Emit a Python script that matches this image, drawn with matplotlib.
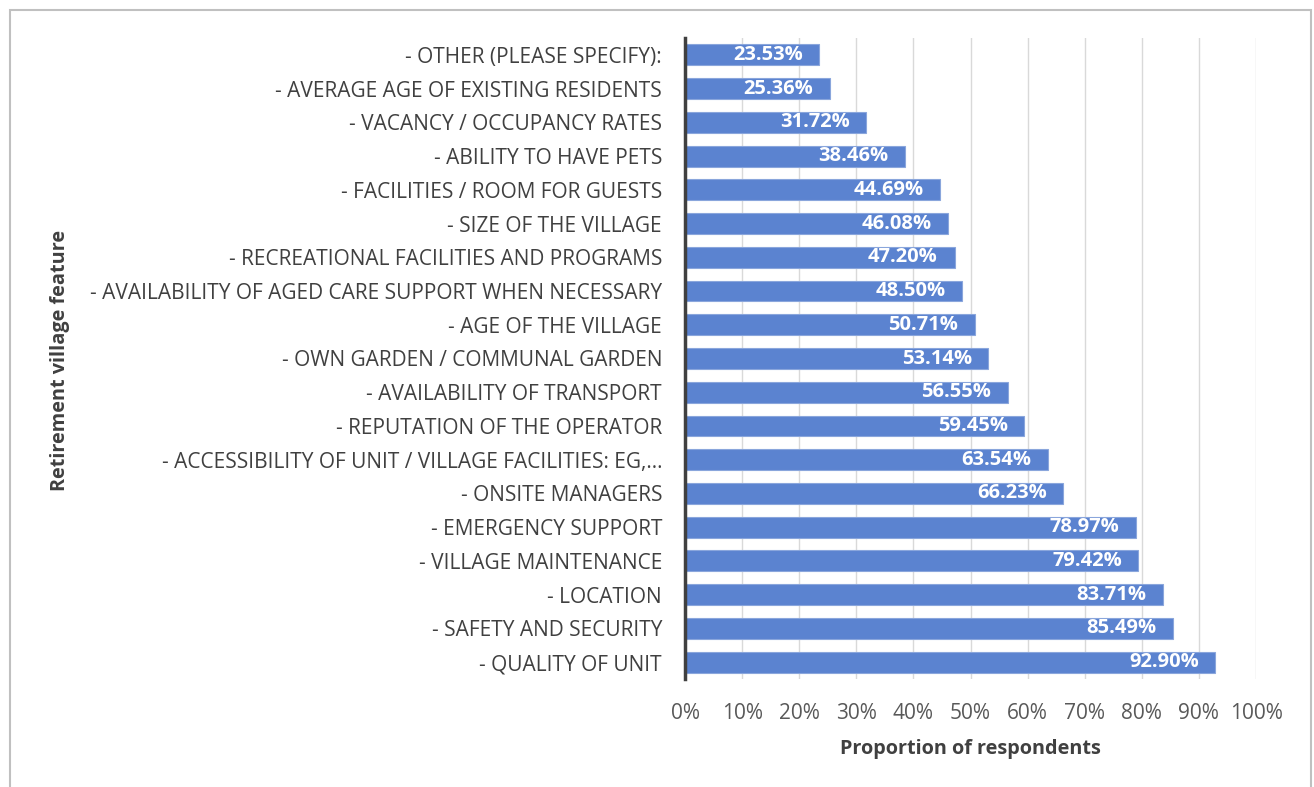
import matplotlib.pyplot as plt
from matplotlib.patches import Rectangle
from matplotlib.ticker import FuncFormatter

features = [
    "- QUALITY OF UNIT",
    "- SAFETY AND SECURITY",
    "- LOCATION",
    "- VILLAGE MAINTENANCE",
    "- EMERGENCY SUPPORT",
    "- ONSITE MANAGERS",
    "- ACCESSIBILITY OF UNIT / VILLAGE FACILITIES: EG,\u2026",
    "- REPUTATION OF THE OPERATOR",
    "- AVAILABILITY OF TRANSPORT",
    "- OWN GARDEN / COMMUNAL GARDEN",
    "- AGE OF THE VILLAGE",
    "- AVAILABILITY OF AGED CARE SUPPORT WHEN NECESSARY",
    "- RECREATIONAL FACILITIES AND PROGRAMS",
    "- SIZE OF THE VILLAGE",
    "- FACILITIES / ROOM FOR GUESTS",
    "- ABILITY TO HAVE PETS",
    "- VACANCY / OCCUPANCY RATES",
    "- AVERAGE AGE OF EXISTING RESIDENTS",
    "- OTHER (PLEASE SPECIFY):",
]
proportions = [92.90, 85.49, 83.71, 79.42, 78.97, 66.23, 63.54, 59.45, 56.55,
               53.14, 50.71, 48.50, 47.20, 46.08, 44.69, 38.46, 31.72, 25.36, 23.53]

plt.rcParams['font.family'] = ['Open Sans', 'DejaVu Sans']

fig = plt.figure(figsize=(13.14, 7.87), dpi=100)
# outer chart border (no bottom edge visible)
fig.patches.append(Rectangle((10 / 1314, -0.01), (1311 - 10) / 1314, 1 - 10 / 787 + 0.01,
                             transform=fig.transFigure, fill=False,
                             edgecolor='#c0c0c0', linewidth=1.5))

ax = fig.add_axes([685 / 1314, 1 - 679 / 787, (1256 - 685) / 1314, (679 - 38) / 787])

y = list(range(len(features)))
ax.barh(y, proportions, height=0.62, color='#5b83d0', edgecolor='#8aa6dc',
        linewidth=0.8, zorder=3)

for yi, v in zip(y, proportions):
    ax.annotate(f'{v:.2f}%', xy=(v, yi), xytext=(-12, 0), textcoords='offset points',
                ha='right', va='center', color='white', fontsize=14.5,
                fontweight='bold', zorder=4)

ax.set_xlim(0, 100)
ax.set_ylim(-0.5, len(features) - 0.5)
ax.set_xticks(range(0, 101, 10))
ax.xaxis.set_major_formatter(FuncFormatter(lambda x, p: f'{x:.0f}%'))
ax.set_yticks(y)
ax.set_yticklabels(features)

ax.grid(axis='x', color='#d9d9d9', linewidth=1, zorder=0)
for s in ['top', 'right', 'bottom']:
    ax.spines[s].set_visible(False)
ax.spines['left'].set_color('#404040')
ax.spines['left'].set_linewidth(2.5)
ax.spines['left'].set_zorder(5)

ax.tick_params(axis='x', length=0, labelsize=15, labelcolor='#595959', pad=17)
ax.tick_params(axis='y', length=0, labelsize=15, labelcolor='#404040', pad=16.5)

ax.set_xlabel('Proportion of respondents', fontsize=14.3, fontweight='bold',
              color='#404040', labelpad=11)
fig.text(60 / 1314, 1 - 360 / 787, 'Retirement village feature', rotation=90,
         ha='center', va='center', fontsize=14.3, fontweight='bold', color='#404040')

fig.savefig('out.png', dpi=100)
